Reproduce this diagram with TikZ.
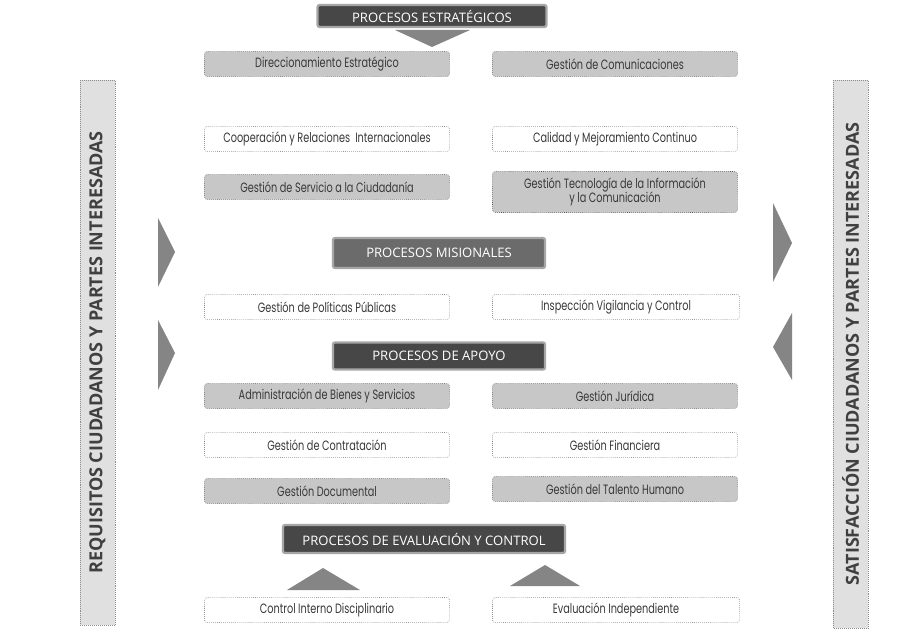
\documentclass[tikz,border=0pt]{standalone}
\usepackage{fontspec}
\setmainfont{Open Sans}
\newfontfamily\cajafont[FakeStretch=0.72]{Poppins}
\newfontfamily\cabfont{Open Sans}
\usetikzlibrary{positioning}

\tikzset{
  caja/.style={draw=black!65, densely dotted, rounded corners=2pt, minimum width=6.125cm,
    minimum height=0.63cm, inner sep=1pt, align=center, text=black!78,
    font=\cajafont\fontsize{9.6}{10.2}\selectfont},
  gris/.style={caja, fill=black!22},
  blanco/.style={caja, fill=white},
  cabecera/.style={fill=black!72, draw=black!35, line width=1.6pt, rounded corners=1.5pt,
    text=white, inner sep=0pt, font=\cabfont\fontsize{9.3}{11}\selectfont},
  barra/.style={fill=black!12, draw=black!45, densely dotted, minimum height=0.875cm,
    inner sep=0pt, text=black!75, font=\cabfont\bfseries\fontsize{12.8}{14}\selectfont},
  flecha/.style={fill=black!48, draw=none},
}

\begin{document}
\begin{tikzpicture}[x=0.025cm, y=-0.025cm]
  \useasboundingbox (0,0) rectangle (919,629);
  \fill[white] (0,0) rectangle (919,629);

  %%%%% BARRAS LATERALES %%%%%
  \node[barra, minimum width=13.625cm, rotate=90] (requisitos) at (97.5,352.5)
    {REQUISITOS CIUDADANOS Y PARTES INTERESADAS};
  \node[barra, minimum width=13.7cm, rotate=90] (satisfaccion) at (850.5,354)
    {SATISFACCIÓN CIUDADANOS Y PARTES INTERESADAS};

  %%%%% PROCESOS ESTRATEGICOS %%%%%
  \node[cabecera, minimum width=5.72cm, minimum height=0.55cm] (estrategicos) at (432,16)
    {PROCESOS ESTRATÉGICOS};
  \fill[flecha] (395,30) -- (470,30) -- (432,47) -- cycle;

  \node[gris] (direccionamiento) at (327,64) {Direccionamiento Estratégico};
  \node[gris] (comunicaciones) at (615,64) {Gestión de Comunicaciones};
  \node[blanco] (cooperacion) at (327,139) {Cooperación y Relaciones\ \ Internacionales};
  \node[blanco] (calidad) at (615,139) {Calidad y Mejoramiento Continuo};
  \node[gris] (servicio) at (327,187) {Gestión de Servicio a la Ciudadanía};
  \node[gris, minimum height=1.025cm] (tecnologia) at (615,192)
    {Gestión Tecnología de la Información\\y la Comunicación};

  %%%%% PROCESOS MISIONALES %%%%%
  \node[cabecera, fill=black!58, minimum width=5.3cm, minimum height=0.75cm] (misionales) at (439,253)
    {PROCESOS MISIONALES};
  \node[blanco] (politicas) at (327,307) {Gestión de Políticas Públicas};
  \node[blanco, minimum width=6.175cm] (inspeccion) at (616,307) {Inspección Vigilancia y Control};

  %%%%% PROCESOS DE APOYO %%%%%
  \node[cabecera, minimum width=5.3cm, minimum height=0.68cm] (apoyo) at (439,356)
    {PROCESOS DE APOYO};
  \node[gris] (bienes) at (327,396) {Administración de Bienes y Servicios};
  \node[gris] (juridica) at (615,396) {Gestión Jurídica};
  \node[blanco] (contratacion) at (327,445) {Gestión de Contratación};
  \node[blanco] (financiera) at (615,445) {Gestión Financiera};
  \node[gris] (documental) at (327,491) {Gestión Documental};
  \node[gris] (talento) at (615,489) {Gestión del Talento Humano};

  %%%%% PROCESOS DE EVALUACION Y CONTROL %%%%%
  \node[cabecera, minimum width=7.05cm, minimum height=0.7cm] (evaluacion) at (424,539)
    {PROCESOS DE EVALUACIÓN Y CONTROL};
  \fill[flecha] (287,590) -- (323,568) -- (360,590) -- cycle;
  \fill[flecha] (510,586) -- (545,565) -- (580,586) -- cycle;
  \node[blanco] (disciplinario) at (327,610) {Control Interno Disciplinario};
  \node[blanco, minimum width=6.175cm] (independiente) at (616,610) {Evaluación Independiente};

  %%%%% FLECHAS LATERALES %%%%%
  \fill[flecha] (158,218) -- (175,252) -- (158,287) -- cycle;
  \fill[flecha] (158,320) -- (175,353) -- (158,390) -- cycle;
  \fill[flecha] (773,203) -- (792,243) -- (773,282) -- cycle;
  \fill[flecha] (792,313) -- (773,347) -- (792,380) -- cycle;
\end{tikzpicture}
\end{document}
